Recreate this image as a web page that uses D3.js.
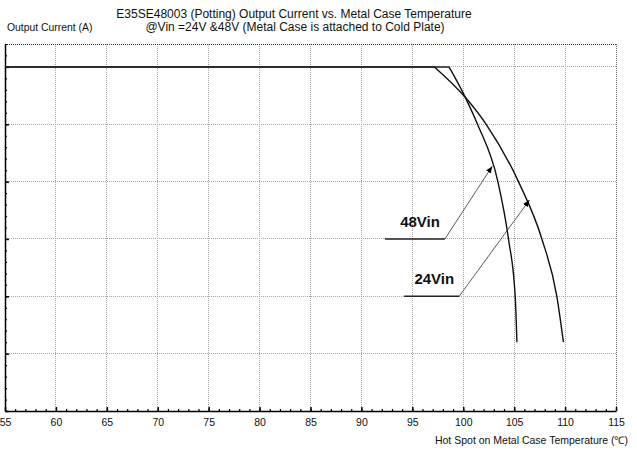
<!DOCTYPE html>
<html>
<head>
<meta charset="utf-8">
<script src="https://cdn.jsdelivr.net/npm/d3@7/dist/d3.min.js"></script>
<style>
  html, body { margin: 0; padding: 0; background: #fff; }
  svg { display: block; font-family: Arial, "Liberation Sans", sans-serif; }
</style>
</head>
<body>
<svg id="chart" width="637" height="450"></svg>
<script>
// ---- Data ----
const xTicks = [55, 60, 65, 70, 75, 80, 85, 90, 95, 100, 105, 110, 115];
const yMajor = [0, 1, 2, 3, 4, 5, 6];
const ratedCurrent = 6;

// 48Vin derating curve (temperature, current)
const temp48 = [98.6, 100.2, 101.4, 103.4, 104.44, 105.1, 105.27];
const curr48 = [6.0, 5.47, 5.0, 4.0, 3.0, 2.0, 1.2];

// 24Vin derating curve
const temp24 = [97.17, 100.2, 102.25, 105.42, 107.72, 109.19, 109.84];
const curr24 = [6.0, 5.47, 5.0, 4.0, 3.0, 2.0, 1.2];

// Callout annotations
const labels = ["48Vin", "24Vin"];
const calloutX0 = [92.3, 94.2];
const calloutX1 = [98.2, 99.6];
const calloutY = [3.0, 2.0];
const tipX = [102.85, 106.5];
const tipY = [4.27, 3.68];

const title1 = "E35SE48003 (Potting)  Output Current vs. Metal Case Temperature";
const title2 = "@Vin =24V &48V (Metal Case is attached to Cold Plate)";
const yTitle = "Output Current (A)";
const xTitle = "Hot Spot on Metal Case Temperature (\u2103)";

// ---- Layout ----
const svg = d3.select("#chart");
const x = d3.scaleLinear().domain([55, 115]).range([5, 616]);
const y = d3.scaleLinear().domain([0, 6.4]).range([411, 44]);

const font = "Arial, 'Liberation Sans', sans-serif";

// Grid
const grid = svg.append("g");
grid.selectAll("line.v").data(xTicks.filter(d => d > 55)).join("line")
  .attr("x1", d => x(d)).attr("x2", d => x(d))
  .attr("y1", y(6.4)).attr("y2", y(0))
  .attr("stroke", d => d === 115 ? "#666" : "#a8a8a8")
  .attr("stroke-width", 1)
  .attr("stroke-dasharray", "1,1")
  .attr("shape-rendering", "crispEdges");
grid.selectAll("line.h").data(yMajor.filter(d => d > 0)).join("line")
  .attr("x1", x(55)).attr("x2", x(115))
  .attr("y1", d => y(d)).attr("y2", d => y(d))
  .attr("stroke", "#a8a8a8")
  .attr("stroke-width", 1)
  .attr("stroke-dasharray", "1,1")
  .attr("shape-rendering", "crispEdges");
// top border (dotted)
grid.append("line")
  .attr("x1", x(55)).attr("x2", x(115))
  .attr("y1", y(6.4)).attr("y2", y(6.4))
  .attr("stroke", "#333").attr("stroke-dasharray", "1,1")
  .attr("shape-rendering", "crispEdges");

// X axis: major ticks (inward) with labels
const xAxis = d3.axisBottom(x).tickValues(xTicks).tickSizeInner(-4).tickSizeOuter(0).tickPadding(8);
const gx = svg.append("g").attr("transform", `translate(0,${y(0)})`).call(xAxis);
gx.select(".domain").attr("stroke", "#000").attr("stroke-width", 1.5);
gx.selectAll(".tick line").attr("stroke", "#000").attr("stroke-width", 1.5);
gx.selectAll(".tick text").attr("font-size", 10.5).attr("font-family", font).attr("fill", "#111");

// X minor ticks
const xMinor = d3.axisBottom(x).tickValues(d3.range(55, 115.01, 1)).tickSizeInner(-2).tickSizeOuter(0).tickFormat("");
const gxm = svg.append("g").attr("transform", `translate(0,${y(0)})`).call(xMinor);
gxm.select(".domain").remove();
gxm.selectAll(".tick line").attr("stroke", "#000").attr("stroke-width", 1.2);

// Y axis
const yAxis = d3.axisLeft(y).tickValues(yMajor).tickSizeInner(-4).tickSizeOuter(0).tickFormat("");
const gy = svg.append("g").attr("transform", `translate(${x(55)},0)`).call(yAxis);
gy.select(".domain").attr("stroke", "#000").attr("stroke-width", 1.5);
gy.selectAll(".tick line").attr("stroke", "#000").attr("stroke-width", 1.5);
const yMinor = d3.axisLeft(y).tickValues(d3.range(0, 6.41, 0.2)).tickSizeInner(-2).tickSizeOuter(0).tickFormat("");
const gym = svg.append("g").attr("transform", `translate(${x(55)},0)`).call(yMinor);
gym.select(".domain").remove();
gym.selectAll(".tick line").attr("stroke", "#000").attr("stroke-width", 1.2);

// Curves
const flat = d3.line().x(d => x(d[0])).y(d => y(d[1]));
const smooth = d3.line().x(d => x(d[0])).y(d => y(d[1])).curve(d3.curveMonotoneX);
const series = [
  { t: temp48, c: curr48 },
  { t: temp24, c: curr24 }
];
series.forEach(s => {
  const pts = s.t.map((t, i) => [t, s.c[i]]);
  svg.append("path").attr("d", flat([[55, ratedCurrent], pts[0]]))
    .attr("fill", "none").attr("stroke", "#222").attr("stroke-width", 1.5);
  svg.append("path").attr("d", smooth(pts))
    .attr("fill", "none").attr("stroke", "#111").attr("stroke-width", 1.4);
});

// Callouts
const defs = svg.append("defs");
defs.append("marker").attr("id", "arr")
  .attr("viewBox", "0 0 10 10").attr("refX", 10).attr("refY", 5)
  .attr("markerWidth", 7).attr("markerHeight", 7).attr("markerUnits", "userSpaceOnUse")
  .attr("orient", "auto")
  .append("path").attr("d", "M0,1 L10,5 L0,9 Z").attr("fill", "#000");

labels.forEach((lab, i) => {
  svg.append("line")
    .attr("x1", x(calloutX0[i])).attr("x2", x(calloutX1[i]))
    .attr("y1", y(calloutY[i])).attr("y2", y(calloutY[i]))
    .attr("stroke", "#222").attr("stroke-width", 1.5);
  svg.append("line")
    .attr("x1", x(calloutX1[i])).attr("y1", y(calloutY[i]))
    .attr("x2", x(tipX[i])).attr("y2", y(tipY[i]))
    .attr("stroke", "#333").attr("stroke-width", 0.8)
    .attr("marker-end", "url(#arr)");
  svg.append("text")
    .attr("x", x(calloutX1[i]) - 5).attr("y", y(calloutY[i]) - 12)
    .attr("text-anchor", "end")
    .attr("font-size", 15).attr("font-weight", "bold").attr("font-family", font)
    .attr("fill", "#111")
    .text(lab);
});

// Titles
svg.append("text").attr("x", 294).attr("y", 18).attr("text-anchor", "middle")
  .attr("font-size", 12).attr("font-family", font).attr("fill", "#111").text(title1);
svg.append("text").attr("x", 295).attr("y", 31).attr("text-anchor", "middle")
  .attr("font-size", 12).attr("font-family", font).attr("fill", "#111").text(title2);
svg.append("text").attr("x", 7).attr("y", 31)
  .attr("font-size", 10.4).attr("font-family", font).attr("fill", "#111").text(yTitle);
svg.append("text").attr("x", 628).attr("y", 444).attr("text-anchor", "end")
  .attr("font-size", 10.5).attr("font-family", font).attr("fill", "#111").text(xTitle);
</script>
</body>
</html>
